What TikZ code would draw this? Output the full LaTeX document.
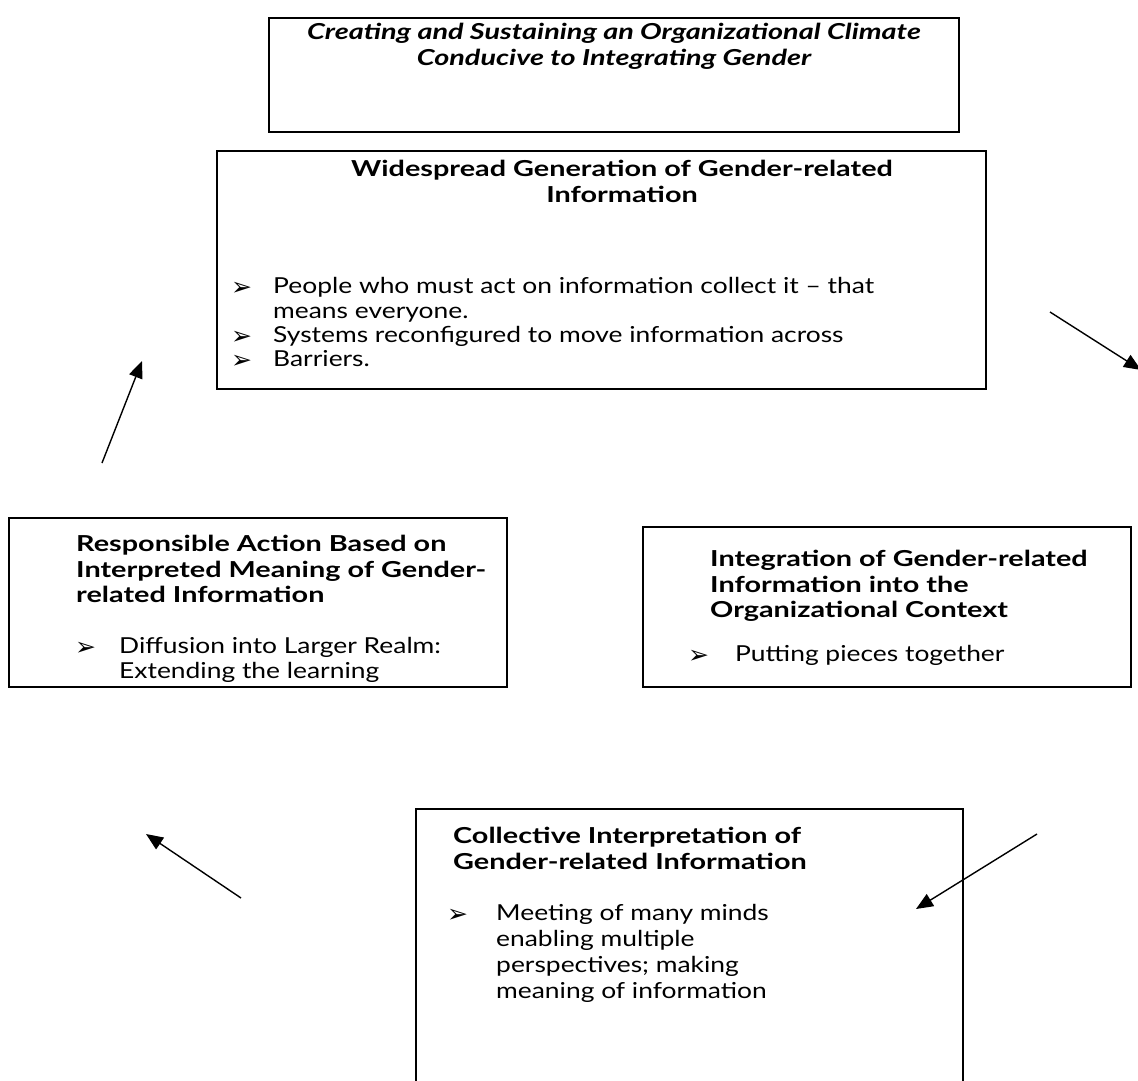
\documentclass[tikz,border=0pt]{standalone}
\usepackage{fontspec}
\setmainfont{Lato}[FakeStretch=1.20]
\newfontfamily\headfont{Lato}[FakeStretch=1.31]
\newfontfamily\dingfont{DejaVu Sans}
\usetikzlibrary{positioning,arrows.meta}

\tikzset{
  frame/.style={draw, line width=1.6pt, inner sep=0pt, anchor=north west},
  txt/.style={inner sep=0pt, align=left, anchor=north west, font=\fontsize{22}{25}\selectfont},
  ttl/.style={inner sep=0pt, align=left, anchor=north west, font=\headfont\bfseries\fontsize{22}{25.5}\selectfont},
  pointer/.style={inner sep=0pt, anchor=west, font=\dingfont\fontsize{25}{25}\selectfont},
  flow/.style={line width=1.4pt, -{Triangle[length=17pt,width=14pt]}},
}

\begin{document}
\begin{tikzpicture}[x=1pt,y=-1pt]
  \clip (0,0) rectangle (1138,1080);
  \fill[white] (0,0) rectangle (1138,1080);

  % frames
  \node[frame, minimum width=690pt, minimum height=114pt] (climbox) at (268,17) {};
  \node[frame, minimum width=769pt, minimum height=238pt] (genbox) at (216,150) {};
  \node[frame, minimum width=498pt, minimum height=169pt] (actbox) at (8,517) {};
  \node[frame, minimum width=488pt, minimum height=160pt] (integbox) at (642,526) {};
  \node[frame, minimum width=547pt, minimum height=300pt] (collbox) at (415,808) {};

  % top
  \node[inner sep=0pt, anchor=north, align=center,
        font=\headfont\bfseries\itshape\fontsize{22}{26}\selectfont] (climtxt) at (614,23)
    {Creating and Sustaining an Organizational Climate\\Conducive to Integrating Gender};

  % generation
  \node[ttl, anchor=north, align=center] (gentitle) at (622,160)
    {Widespread Generation of Gender-related\\Information};
  \node[pointer] (genp1) at (231,289) {➢};
  \node[txt] (gen1) at (273,277) {People who must act on information collect it -- that\\means everyone.};
  \node[pointer] (genp2) at (231,338) {➢};
  \node[txt] (gen2) at (273,326) {Systems reconfigured to move information across};
  \node[pointer] (genp3) at (231,362) {➢};
  \node[txt] (gen3) at (273,350) {Barriers.};

  % action
  \node[ttl] (acttitle) at (76,535)
    {Responsible Action Based on\\Interpreted Meaning of Gender-\\related Information};
  \node[pointer] (actp) at (75,649) {➢};
  \node[txt] (act1) at (119,637) {Diffusion into Larger Realm:\\Extending the learning};

  % integration
  \node[ttl] (integtitle) at (710,550)
    {Integration of Gender-related\\Information into the\\Organizational Context};
  \node[pointer] (integp) at (688,657) {➢};
  \node[txt] (integ1) at (735,645) {Putting pieces together};

  % collective
  \node[ttl] (colltitle) at (453,827)
    {Collective Interpretation of\\Gender-related Information};
  \node[pointer] (collp) at (447,916) {➢};
  \node[txt, font=\fontsize{22}{26}\selectfont] (coll1) at (496,904)
    {Meeting of many minds\\enabling multiple\\perspectives; making\\meaning of information};

  % arrows
  \coordinate (ua) at (102,463);
  \coordinate (ub) at (142,361);
  \coordinate (ra) at (1050,312);
  \coordinate (rb) at (1141,370);
  \coordinate (da) at (1037,834);
  \coordinate (db) at (916,909);
  \coordinate (la) at (241,898);
  \coordinate (lb) at (146,834);
  \draw[flow] (ua) -- (ub);
  \draw[flow] (ra) -- (rb);
  \draw[flow] (da) -- (db);
  \draw[flow] (la) -- (lb);
\end{tikzpicture}
\end{document}
